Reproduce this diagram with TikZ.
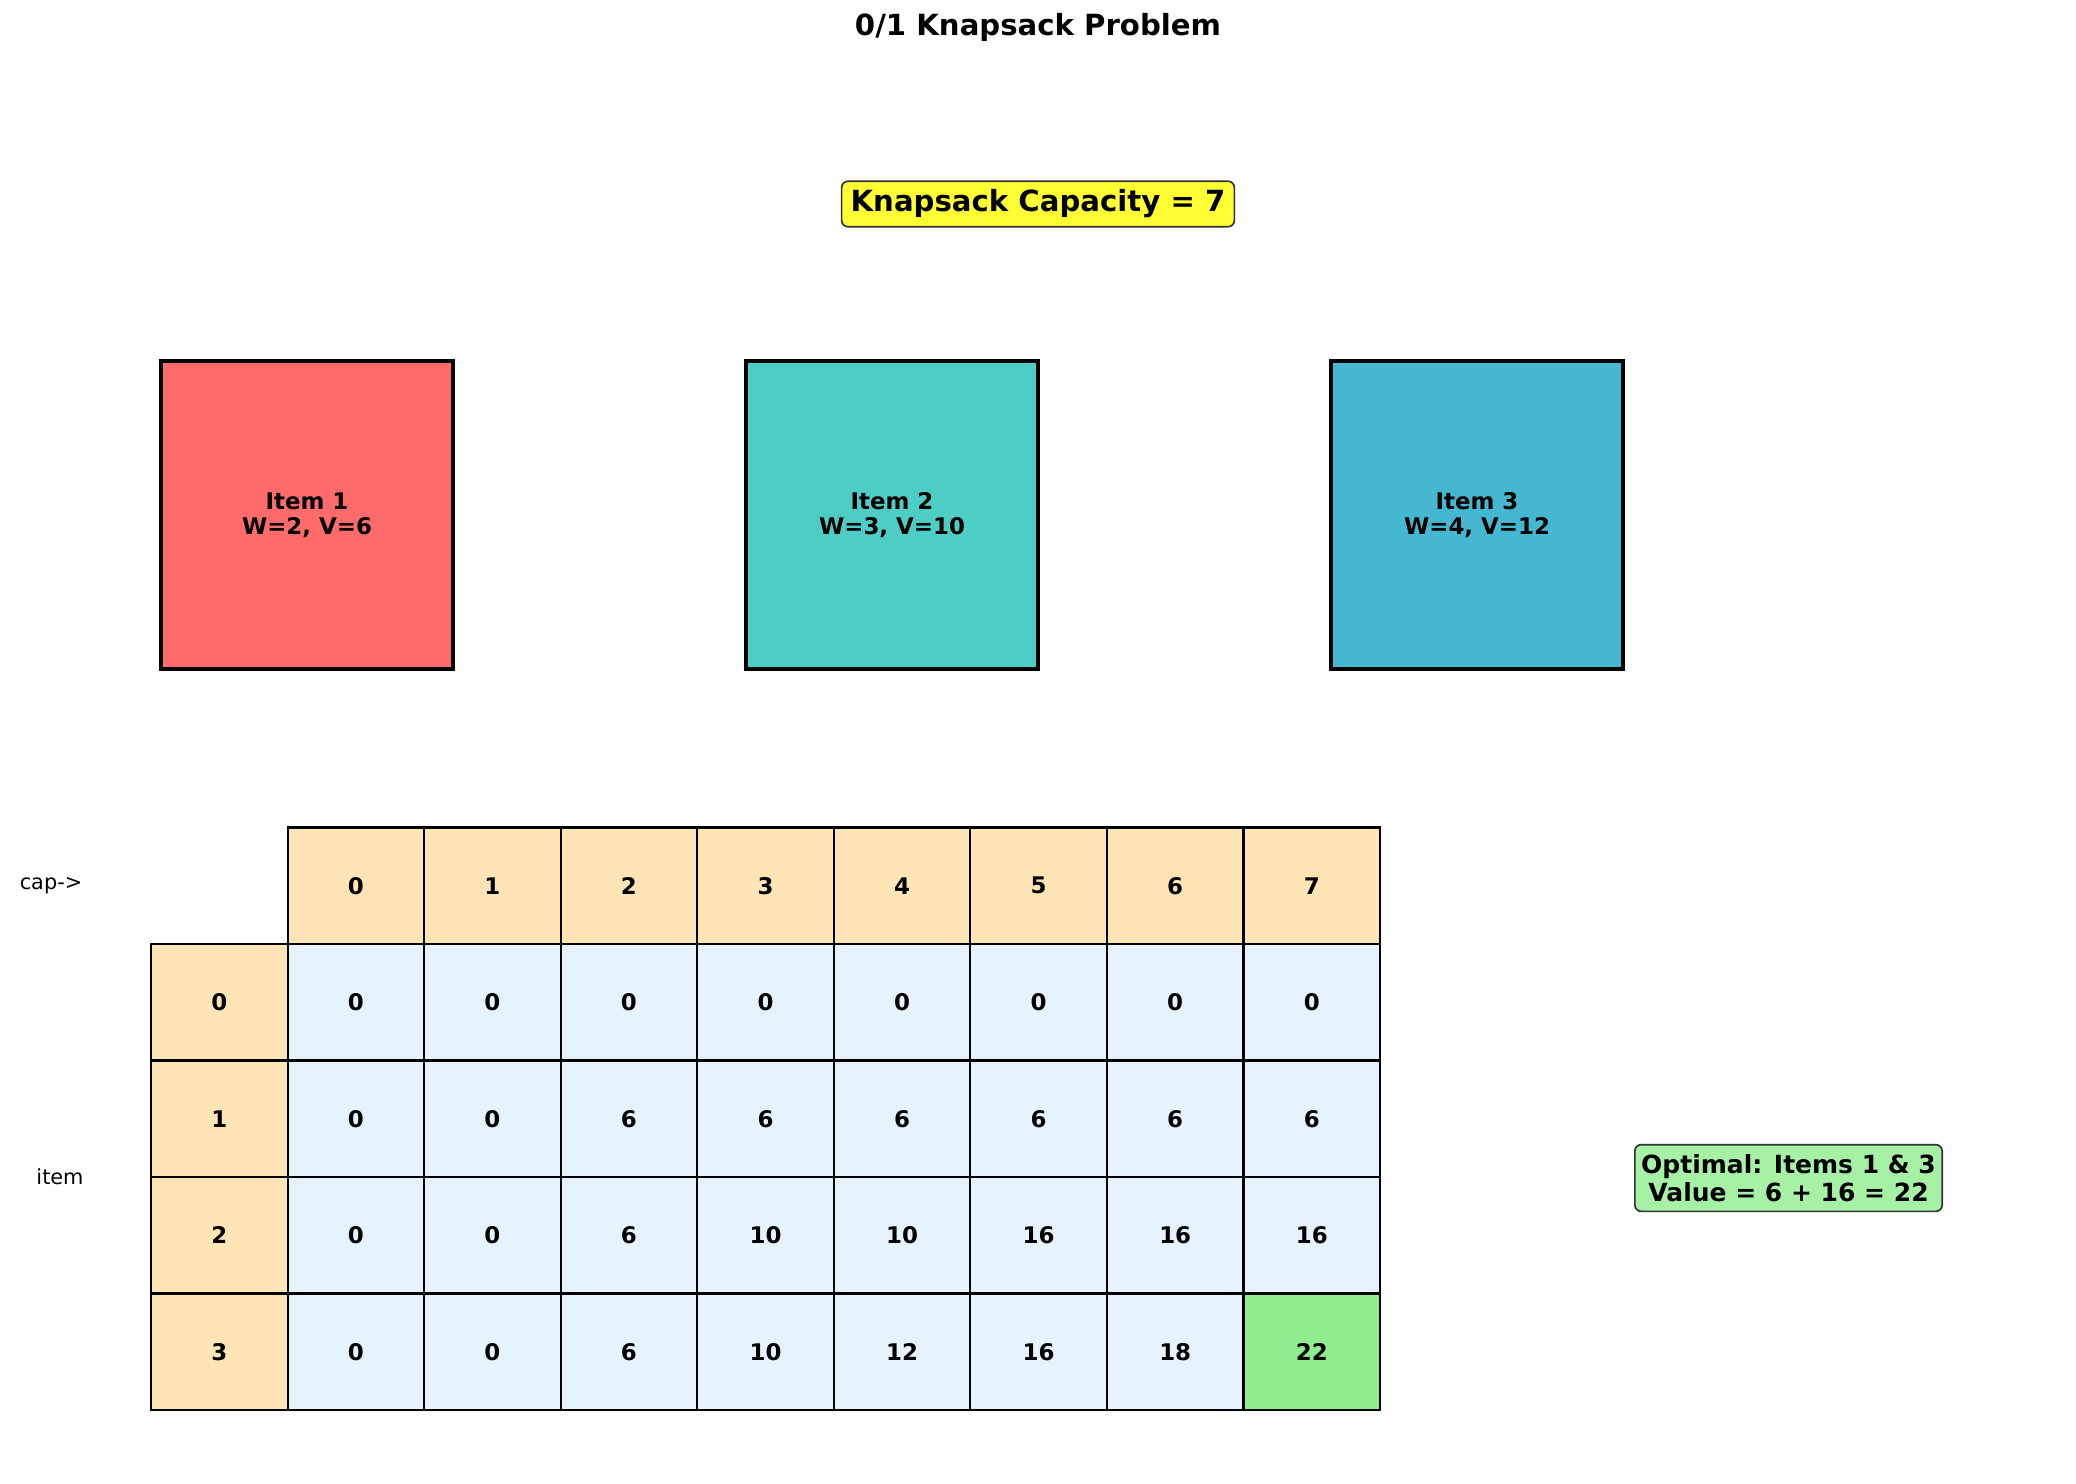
\documentclass[tikz,border=0pt]{standalone}
\usepackage{fontspec}
\setmainfont{DejaVu Sans}
\definecolor{itemA}{HTML}{FF6B6B}
\definecolor{itemB}{HTML}{4ECDC4}
\definecolor{itemC}{HTML}{45B7D1}
\definecolor{hdrcol}{HTML}{FFE4B5}
\definecolor{datcol}{HTML}{E6F2FD}
\definecolor{bestcol}{HTML}{90EE90}
\definecolor{capcol}{HTML}{FFFF33}
\definecolor{optcol}{HTML}{A6F1A6}
\definecolor{edgecol}{HTML}{333333}
\begin{document}
\begin{tikzpicture}[x=0.48bp,y=-0.48bp,
  cell/.style={draw=black, line width=1bp, minimum width=65.55bp, minimum height=55.92bp,
    inner sep=0pt, outer sep=0pt, font=\fontsize{11bp}{13bp}\selectfont\bfseries},
  hdr/.style={cell, fill=hdrcol},
  dat/.style={cell, fill=datcol},
  best/.style={cell, fill=bestcol},
  itembox/.style={draw=black, line width=2bp, minimum width=140.4bp, minimum height=148.1bp,
    inner sep=0pt, align=center, font=\fontsize{11bp}{12.2bp}\selectfont\bfseries},
  infobox/.style={draw=edgecol, line width=0.8bp, rounded corners=3bp, inner sep=0pt, align=center},
  plain/.style={font=\fontsize{10bp}{12bp}\selectfont}
]
\useasboundingbox (0,0) rectangle (2076,1484);

\node[font=\fontsize{14bp}{16bp}\selectfont\bfseries] (title) at (1038,27) {0/1 Knapsack Problem};

\node[infobox, fill=capcol, minimum width=188.5bp, minimum height=21.8bp,
  font=\fontsize{14bp}{16bp}\selectfont\bfseries] (cap) at (1038,204) {Knapsack Capacity = 7};

\node[itembox, fill=itemA] (item1) at (307,515) {Item 1\\W=2, V=6};
\node[itembox, fill=itemB] (item2) at (892,515) {Item 2\\W=3, V=10};
\node[itembox, fill=itemC] (item3) at (1477,515) {Item 3\\W=4, V=12};

% header row
\foreach \c in {0,...,7} {
  \pgfmathsetmacro{\xx}{151+136.56*(\c+1.5)}
  \node[hdr] (h\c) at (\xx,885.75) {\c};
}
% row labels
\foreach \r in {0,...,3} {
  \pgfmathsetmacro{\yy}{827.5+116.5*(\r+1.5)}
  \node[hdr] (l\r) at (219.28,\yy) {\r};
}
% data
\foreach \r/\vals in {0/{0,0,0,0,0,0,0,0},1/{0,0,6,6,6,6,6,6},2/{0,0,6,10,10,16,16,16},3/{0,0,6,10,12,16,18,22}} {
  \pgfmathsetmacro{\yy}{827.5+116.5*(\r+1.5)}
  \foreach \v [count=\c from 0] in \vals {
    \pgfmathsetmacro{\xx}{151+136.56*(\c+1.5)}
    \ifnum\r=3 \ifnum\c=7
      \node[best] (d\r\c) at (\xx,\yy) {\v};
    \else
      \node[dat] (d\r\c) at (\xx,\yy) {\v};
    \fi\else
      \node[dat] (d\r\c) at (\xx,\yy) {\v};
    \fi
  }
}

\node[plain] (caplbl) at (51,886) {cap->};
\node[plain] (itemlbl) at (60,1177) {item};

\node[infobox, fill=optcol, minimum width=147.5bp, minimum height=32bp,
  font=\fontsize{12bp}{13.4bp}\selectfont\bfseries] (opt) at (1788.5,1178) {Optimal: Items 1 \& 3\\Value = 6 + 16 = 22};
\end{tikzpicture}
\end{document}
